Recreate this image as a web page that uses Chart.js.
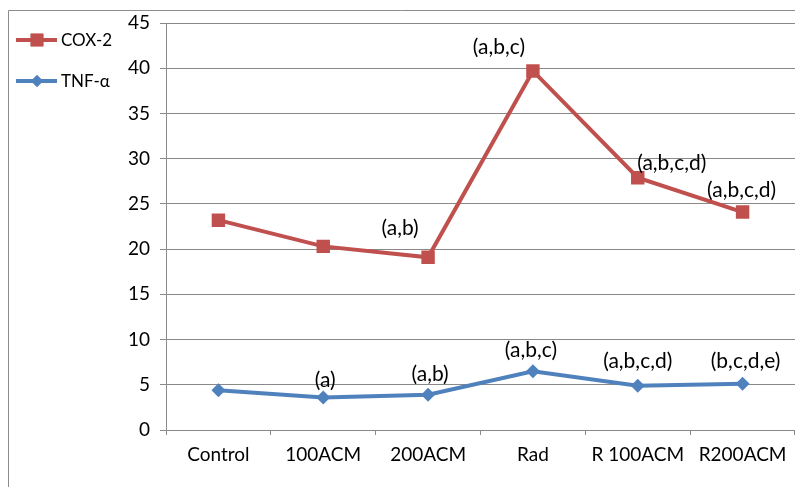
<!DOCTYPE html>
<html>
<head>
<meta charset="utf-8">
<script src="https://cdn.jsdelivr.net/npm/chart.js"></script>
<style>
  body { margin: 0; background: #fff; }
  #wrap { width: 795px; height: 487px; position: relative; }
</style>
</head>
<body>
<div id="wrap"><canvas id="myChart" width="795" height="487"></canvas></div>
<script>
// groups on the x axis
var groups = ['Control', '100ACM', '200ACM', 'Rad', 'R 100ACM', 'R200ACM']
// values
var cox2 = [23.2, 20.3, 19.1, 39.7, 27.9, 24.1]
var tnf = [4.4, 3.6, 3.9, 6.5, 4.9, 5.1]
// significance letters above the points
var coxLetters = ['', '', '(a,b)', '(a,b,c)', '(a,b,c,d)', '(a,b,c,d)']
var tnfLetters = ['', '(a)', '(a,b)', '(a,b,c)', '(a,b,c,d)', '(b,c,d,e)']
var yTicks = [0, 5, 10, 15, 20, 25, 30, 35, 40, 45]

var red = '#C0504D'
var blue = '#4F81BD'
var gridGray = '#898989'
var fontName = 'Lato, Carlito, Calibri, sans-serif'

// letters over each point (offsets are only nudges for placement)
const letterPlugin = {
  id: 'letters',
  afterDatasetsDraw(chart, args, opts) {
    const ctx = chart.ctx
    ctx.save()
    ctx.font = '21px ' + fontName
    ctx.fillStyle = '#000'
    ctx.textAlign = 'center'
    ctx.textBaseline = 'alphabetic'
    opts.sets.forEach((s) => {
      const meta = chart.getDatasetMeta(s.index)
      meta.data.forEach((pt, i) => {
        const txt = s.letters[i]
        if (!txt) return
        const dx = s.dx ? s.dx[i] : 0
        const dy = s.dy ? s.dy[i] : 0
        ctx.fillText(txt, pt.x + dx, pt.y - 18 + dy)
      })
    })
    ctx.restore()
  }
}

// legend on the left: line + marker + name, plus the outer frame
const sideLegend = {
  id: 'sideLegend',
  afterDraw(chart) {
    const ctx = chart.ctx
    ctx.save()
    ctx.strokeStyle = '#8c8c8c'
    ctx.lineWidth = 1
    ctx.beginPath()
    ctx.moveTo(8.5, 487)
    ctx.lineTo(8.5, 10.5)
    ctx.lineTo(795, 10.5)
    ctx.stroke()

    const items = [
      { name: 'COX-2', color: red, shape: 'rect', y: 40, r: 9 },
      { name: 'TNF-α', color: blue, shape: 'rectRot', y: 81, r: 6 }
    ]
    items.forEach((it) => {
      ctx.strokeStyle = it.color
      ctx.lineWidth = 4
      ctx.beginPath()
      ctx.moveTo(16, it.y)
      ctx.lineTo(57, it.y)
      ctx.stroke()
      ctx.fillStyle = it.color
      Chart.helpers.drawPoint(ctx, { pointStyle: it.shape, radius: it.r, borderWidth: 0 }, 37, it.y)
      ctx.fill()
      ctx.fillStyle = '#000'
      ctx.font = '17px ' + fontName
      ctx.textAlign = 'left'
      ctx.textBaseline = 'middle'
      ctx.fillText(it.name, 61, it.y + 1)
    })
    ctx.restore()
  }
}

const data = {
  labels: groups,
  datasets: [
    {
      label: 'COX-2',
      data: cox2,
      borderColor: red,
      backgroundColor: red,
      borderWidth: 4,
      pointStyle: 'rect',
      pointRadius: 9.5,
      pointHoverRadius: 9.5,
      pointBorderWidth: 0,
      tension: 0
    },
    {
      label: 'TNF-α',
      data: tnf,
      borderColor: blue,
      backgroundColor: blue,
      borderWidth: 4,
      pointStyle: 'rectRot',
      pointRadius: 7,
      pointHoverRadius: 7,
      pointBorderWidth: 0,
      tension: 0
    }
  ]
}

const config = {
  type: 'line',
  data: data,
  options: {
    responsive: false,
    animation: false,
    layout: { autoPadding: false, padding: { top: 23, right: 0, left: 0, bottom: 0 } },
    plugins: {
      legend: { display: false },
      tooltip: { enabled: false },
      letters: {
        sets: [
          { index: 0, letters: coxLetters, dx: [0, 0, -28, -34, 34, -1], dy: [0, 0, -4, 1, 10, 3] },
          { index: 1, letters: tnfLetters, dx: [0, 2, 2, -2, 0, 3], dy: [0, 8, 4, 4, 0, 2] }
        ]
      }
    },
    scales: {
      x: {
        offset: true,
        afterFit: (scale) => {
          scale.height = 57
          scale.paddingLeft = 0
          scale.paddingRight = 0
        },
        grid: {
          offset: true,
          drawOnChartArea: false,
          drawTicks: true,
          tickLength: 5,
          color: gridGray
        },
        border: { color: gridGray, width: 1 },
        ticks: {
          color: '#000',
          font: { family: fontName, size: 19 },
          padding: 8,
          maxRotation: 0,
          autoSkip: false
        }
      },
      y: {
        min: 0,
        max: 45,
        afterFit: (scale) => { scale.width = 166 },
        afterBuildTicks: (scale) => { scale.ticks = yTicks.map((v) => ({ value: v })) },
        grid: {
          color: gridGray,
          lineWidth: 1,
          tickLength: 6
        },
        border: { color: gridGray, width: 1 },
        ticks: {
          color: '#000',
          font: { family: fontName, size: 19 },
          padding: 10
        }
      }
    }
  },
  plugins: [letterPlugin, sideLegend]
}

var myLineChart = new Chart('myChart', config)
</script>
</body>
</html>
